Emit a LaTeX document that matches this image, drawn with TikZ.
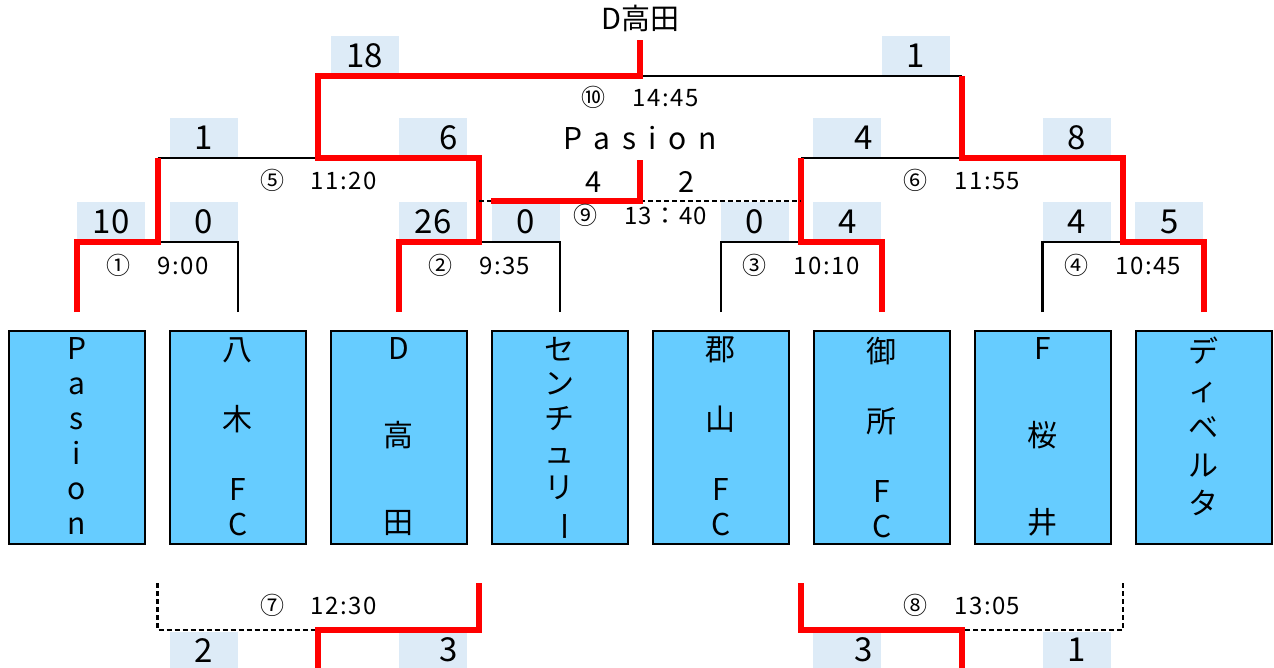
\documentclass[tikz,border=0pt]{standalone}
\usepackage{fontspec}
\setmainfont{Noto Sans CJK JP}
\usetikzlibrary{calc, positioning}

\definecolor{teamBlue}{HTML}{66CCFF}
\definecolor{scoreBlue}{HTML}{DDEBF7}
\definecolor{winRed}{HTML}{FF0000}

\tikzset{
    team/.style={draw=black, line width=2pt, fill=teamBlue, minimum width=136pt, minimum height=213pt, inner sep=0pt},
    teamname/.style={anchor=north, align=center, inner sep=0pt, font=\fontsize{30pt}{#1pt}\selectfont},
    score/.style={fill=scoreBlue, minimum width=68pt, minimum height=40pt, inner sep=0pt, font=\fontsize{33pt}{33pt}\selectfont},
    scoreright/.style={score, text width=50pt, align=right},
    timelabel/.style={inner sep=0pt, font=\fontsize{24pt}{24pt}\selectfont\addfontfeature{LetterSpace=6}},
    loseline/.style={draw=black, line width=2.2pt},
    winline/.style={draw=winRed, line width=6pt},
    openline/.style={draw=black, line width=2.2pt, dash pattern=on 5pt off 3pt}
}

\begin{document}
\begin{tikzpicture}[x=1pt, y=-1pt]
    \useasboundingbox (0,0) rectangle (1274,667);

    % Teams
    \foreach \i/\name/\pitch in {
        1/{P\\a\\s\\i\\o\\n}/35,
        2/{八\\{}\\木\\{}\\F\\C}/35,
        3/{D\\{}\\高\\{}\\田}/43.5,
        4/{セ\\ン\\チ\\ュ\\リ\\\rotatebox[origin=c]{-90}{ー}}/34.5,
        5/{郡\\{}\\山\\{}\\F\\C}/35,
        6/{御\\{}\\所\\{}\\F\\C}/35,
        7/{F\\{}\\桜\\{}\\井}/43.5,
        8/{デ\\ィ\\ベ\\ル\\タ}/38} {
        \node[team] (t\i) at ({77+160.93*(\i-1)},437.5) {};
        \node[teamname=\pitch] (n\i) at ($(t\i.north)+(0,7)$) {\name};
        \coordinate (b\i) at ($(t\i.north)+(0,-18)$);
    }

    % Junctions
    \coordinate (m1) at (157.5,242);
    \coordinate (m2) at (479.3,242);
    \coordinate (m3) at (801.2,242);
    \coordinate (m4) at (1123,242);
    \coordinate (m5) at (318.4,158);
    \coordinate (m6) at (962,158);
    \coordinate (m10) at (640.2,76);
    \coordinate (top10) at (640.2,40);
    \coordinate (m9) at (640.2,201);
    \coordinate (m9a) at (491,201);
    \coordinate (m9w) at (640.2,160);
    \coordinate (m7) at (318.4,630);
    \coordinate (m8) at (962,630);
    \coordinate (lo) at (0,583);
    \coordinate (bot) at (0,672);

    % Score boxes, round 1
    \node[score, anchor=south west] (sc1l) at (b1 |- m1) {10};
    \node[score, anchor=south east] (sc1r) at (b2 |- m1) {0};
    \node[score, anchor=south west] (sc2l) at (b3 |- m2) {26};
    \node[score, anchor=south east] (sc2r) at (b4 |- m2) {0};
    \node[score, anchor=south west] (sc3l) at (b5 |- m3) {0};
    \node[score, anchor=south east] (sc3r) at (b6 |- m3) {4};
    \node[score, anchor=south west] (sc4l) at (b7 |- m4) {4};
    \node[score, anchor=south east] (sc4r) at (b8 |- m4) {5};

    % Score boxes, round 2 and final
    \node[score, anchor=south west, xshift=12pt] (sc5l) at (m1 |- m5) {1};
    \node[scoreright, anchor=south east, xshift=-12pt] (sc5r) at (m2 |- m5) {6};
    \node[scoreright, anchor=south west, xshift=12pt] (sc6l) at (m3 |- m6) {4};
    \node[score, anchor=south east, xshift=-12pt] (sc6r) at (m4 |- m6) {8};
    \node[score, anchor=south west, xshift=12pt] (sc10l) at (m5 |- m10) {18};
    \node[score, anchor=south east, xshift=-12pt] (sc10r) at (m6 |- m10) {1};

    % Score boxes, lower matches
    \node[score, minimum height=36pt, anchor=north west, xshift=12pt, yshift=-2pt] (sc7l) at (m1 |- m7) {2};
    \node[scoreright, minimum height=36pt, anchor=north east, xshift=-12pt, yshift=-2pt] (sc7r) at (m2 |- m7) {3};
    \node[scoreright, minimum height=36pt, anchor=north west, xshift=12pt, yshift=-2pt] (sc8l) at (m3 |- m8) {3};
    \node[score, minimum height=36pt, anchor=north east, xshift=-12pt, yshift=-2pt] (sc8r) at (m4 |- m8) {1};

    % Losing lines
    \draw[loseline] (b2) |- (m1);
    \draw[loseline] (b4) |- (m2);
    \draw[loseline] (b5) |- (m3);
    \draw[loseline] (b7) |- (m4);
    \draw[loseline] (m1 |- m5) -- (m5);
    \draw[loseline] (m3 |- m6) -- (m6);
    \draw[loseline] (m10) -- (m6 |- m10);

    % Winning path
    \draw[winline] (b1) |- (m1) -- (m1 |- m5);
    \draw[winline] (b3) |- (m2) -- (m2 |- m5) -- (m5) -- (m5 |- m10) -- (m10) -- (top10);
    \draw[winline] (b6) |- (m3) -- (m3 |- m6);
    \draw[winline] (b8) |- (m4) -- (m4 |- m6) -- (m6) -- (m6 |- m10);

    % Third place
    \draw[openline] (m2 |- m9) -- (m9a);
    \draw[openline] (m9) -- (m3 |- m9);
    \draw[winline] (m9a) -- (m9) -- (m9w);

    % Lower matches
    \draw[openline] (m1 |- lo) |- (m7);
    \draw[winline] (m2 |- lo) |- (m7) -- (m7 |- bot);
    \draw[openline] (m4 |- lo) |- (m8);
    \draw[winline] (m3 |- lo) |- (m8) -- (m8 |- bot);

    % Match times
    \node[timelabel] (tm1) at ($(m1)+(0,23)$) {①　9:00};
    \node[timelabel] (tm2) at ($(m2)+(0,23)$) {②　9:35};
    \node[timelabel] (tm3) at ($(m3)+(0,23)$) {③　10:10};
    \node[timelabel] (tm4) at ($(m4)+(0,23)$) {④　10:45};
    \node[timelabel] (tm5) at ($(m5)+(0,22)$) {⑤　11:20};
    \node[timelabel] (tm6) at ($(m6)+(0,22)$) {⑥　11:55};
    \node[timelabel] (tm10) at ($(m10)+(0,21)$) {⑩　14:45};
    \node[timelabel] (tm9) at ($(m9)+(0,14)$) {⑨　13：40};
    \node[timelabel] (tm7) at ($(m7)+(0,-25)$) {⑦　12:30};
    \node[timelabel] (tm8) at ($(m8)+(0,-25)$) {⑧　13:05};

    % Results
    \node[inner sep=0pt, font=\fontsize{29pt}{29pt}\selectfont] (winner) at (640.2,18) {D高田};
    \node[inner sep=0pt, font=\fontsize{30pt}{30pt}\selectfont\addfontfeature{LetterSpace=40}] (third) at (640.2,138) {Pasion};
    \node[inner sep=0pt, font=\fontsize{29pt}{29pt}\selectfont] (sc9l) at (594,182) {4};
    \node[inner sep=0pt, font=\fontsize{29pt}{29pt}\selectfont] (sc9r) at (687,182) {2};
\end{tikzpicture}
\end{document}
